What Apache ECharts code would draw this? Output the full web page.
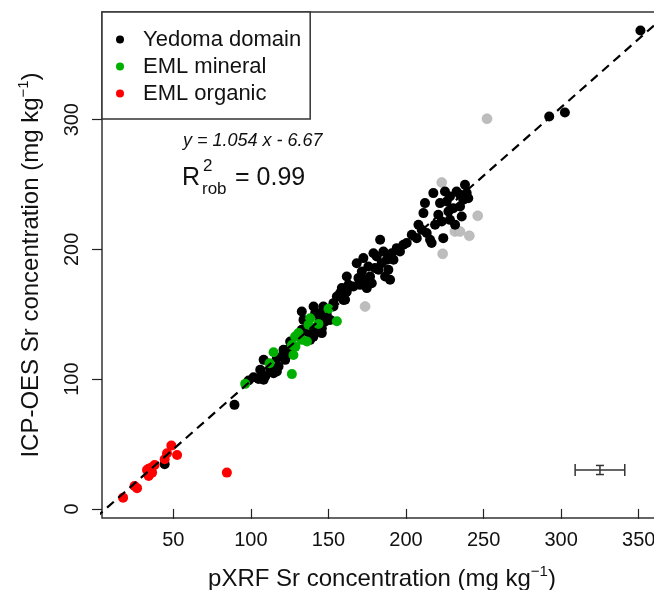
<!DOCTYPE html>
<html><head><meta charset="utf-8">
<script src="https://cdn.jsdelivr.net/npm/echarts@6/dist/echarts.min.js"></script>
<style>html,body{margin:0;padding:0;background:#fff;overflow:hidden}#c{width:654px;height:590px}</style>
</head><body><div id="c"></div>
<script>
const xTicks = [50, 100, 150, 200, 250, 300, 350];
const yTicks = [0, 100, 200, 300];

const yedomaX = [89.4,98.5,101.7,104.9,108.2,107.1,109.2,108.2,112.4,115.7,116.7,117.8,114.6,119.9,121.0,122.1,124.3,132.8,133.9,132.8,136.1,139.3,138.2,140.4,140.4,143.6,144.6,145.7,146.8,145.7,147.9,151.1,153.2,155.4,157.5,158.6,160.7,161.8,162.9,166.1,168.2,169.3,170.4,171.5,172.5,173.6,174.7,175.7,176.8,177.9,179.0,180.0,181.1,182.2,183.3,184.3,185.4,186.5,187.6,188.6,189.7,190.8,191.9,194.0,196.1,198.3,200.4,203.7,206.9,208.0,210.1,211.2,212.2,213.3,215.5,216.5,217.6,218.7,220.8,221.9,223.0,224.0,225.1,226.2,227.3,228.3,228.3,230.5,231.6,232.6,234.8,234.8,235.9,236.9,238.0,239.1,240.1,292.3,302.4,351.1,44.4,146.7,153.2,141.4,148.9,116.7,106.0,125.3,123.2,140.3,142.5,147.9,161.8,159.6];
const yedomaY = [80.2,99.0,101.5,100.2,99.5,103.3,102.0,114.9,107.2,108.5,105.9,109.8,104.6,117.5,122.6,114.9,120.0,152.2,145.7,138.0,136.7,135.5,130.3,139.3,156.0,150.9,145.7,139.3,148.3,135.5,150.9,145.7,156.0,163.7,166.3,170.2,161.2,179.1,172.7,171.4,189.4,177.9,172.7,183.0,193.3,176.6,170.2,186.8,179.2,174.0,197.1,185.6,194.6,184.3,207.4,189.4,198.4,179.2,192.0,184.3,176.6,197.1,192.0,201.0,198.4,203.6,204.9,211.3,208.7,219.0,215.1,228.0,235.7,212.6,207.4,204.9,243.4,219.0,226.7,235.7,221.6,208.7,244.7,237.0,229.3,222.8,240.8,231.8,219.0,244.7,242.1,233.1,225.4,238.3,249.8,243.4,239.5,302.5,305.6,368.8,34.5,156.0,158.6,150.9,149.6,116.2,107.2,129.0,122.6,132.8,136.7,144.4,167.5,161.1];

const mineralX = [96.3,112.0,114.6,126.4,127.4,126.4,128.5,130.7,132.8,136.1,137.1,138.2,143.5,150.0,155.4,128.7];
const mineralY = [96.4,112.3,120.8,103.9,118.7,126.4,132.8,135.5,130.3,129.0,141.9,147.0,142.6,154.2,144.7,125.1];

const organicX = [17.6,25.0,26.6,33.0,35.2,34.1,36.3,37.9,44.4,45.9,48.7,52.4,84.5,34.0,36.0];
const organicY = [8.7,17.7,16.0,30.0,27.5,25.4,28.0,33.9,38.3,42.9,48.8,41.6,28.0,31.0,32.0];

const outlierX = [252.2,223.0,246.2,231.5,234.8,240.8,223.6,173.6];
const outlierY = [300.7,251.6,225.9,213.8,213.8,210.5,196.6,156.0];

const fitSlope = 1.054, fitIntercept = -6.67;
const fitX = [0, 380];

const errX = [325], errY = [30], errDx = [16], errDy = [3.5];

const F = '"Liberation Sans", Arial, Helvetica, sans-serif';
const zip = (a, b) => a.map((v, i) => [v, b[i]]);

const chart = echarts.init(document.getElementById('c'), null, {renderer: 'canvas'});
const supRich = {
  sup: {fontSize: 15, verticalAlign: 'top', fontFamily: F, color: '#111', padding: [0, 0, 15, 0]},
};
chart.setOption({
  animation: false,
  backgroundColor: '#fff',
  grid: {left: 102, top: 12, right: -8, bottom: 72, outerBoundsMode: 'none', containLabel: false,
         show: true, borderColor: '#333', borderWidth: 1.5, backgroundColor: 'transparent'},
  xAxis: {
    type: 'value', min: 4, max: 365,
    axisLine: {show: false}, splitLine: {show: false},
    axisTick: {show: true, customValues: xTicks, length: 10, lineStyle: {color: '#222', width: 1.2}},
    axisLabel: {customValues: xTicks, fontSize: 20, color: '#111', margin: 12, fontFamily: F},
    name: 'pXRF Sr concentration (mg kg{sup|−1})',
    nameLocation: 'middle', nameGap: 46,
    nameTextStyle: {fontSize: 24, color: '#111', fontFamily: F, rich: supRich}
  },
  yAxis: {
    type: 'value', min: -7, max: 383,
    axisLine: {show: false}, splitLine: {show: false},
    axisTick: {show: true, customValues: yTicks, length: 10, lineStyle: {color: '#222', width: 1.2}},
    axisLabel: {customValues: yTicks, fontSize: 20, color: '#111', margin: 20, rotate: 90, fontFamily: F},
    name: 'ICP-OES Sr concentration (mg kg{sup|−1})',
    nameLocation: 'middle', nameGap: 56,
    nameTextStyle: {fontSize: 24, color: '#111', fontFamily: F, rich: supRich}
  },
  legend: {
    orient: 'vertical', left: 102, top: 12,
    padding: [14, 9, 12, 14],
    itemWidth: 36, itemHeight: 8, itemGap: 0,
    borderColor: '#333', borderWidth: 1.5, backgroundColor: '#fff',
    icon: 'circle',
    textStyle: {fontSize: 22, color: '#111', fontFamily: F, lineHeight: 27, padding: [0, 0, 0, 0]},
    data: ['Yedoma domain', 'EML mineral', 'EML organic']
  },
  graphic: [
    {type: 'text', left: 183, top: 132, style: {text: 'y = 1.054 x - 6.67', fontSize: 18, fontStyle: 'italic', fontFamily: F, fill: '#111'}},
    {type: 'text', left: 182, top: 166, style: {text: 'R', fontSize: 25, fontFamily: F, fill: '#111'}},
    {type: 'text', left: 203, top: 158, style: {text: '2', fontSize: 17, fontFamily: F, fill: '#111'}},
    {type: 'text', left: 202, top: 181, style: {text: 'rob', fontSize: 17, fontFamily: F, fill: '#111'}},
    {type: 'text', left: 235, top: 166, style: {text: '= 0.99', fontSize: 25, fontFamily: F, fill: '#111'}}
  ],
  series: [
    {name: 'outliers', type: 'scatter', data: zip(outlierX, outlierY), symbolSize: 10, z: 2,
     itemStyle: {color: '#bdbdbd', borderColor: '#aaa', borderWidth: 0.5, opacity: 1}},
    {name: 'Yedoma domain', type: 'scatter', data: zip(yedomaX, yedomaY), symbolSize: 10, z: 3,
     itemStyle: {color: '#000', opacity: 1}},
    {name: 'EML mineral', type: 'scatter', data: zip(mineralX, mineralY), symbolSize: 10, z: 4,
     itemStyle: {color: '#00b000', opacity: 1}},
    {name: 'EML organic', type: 'scatter', data: zip(organicX, organicY), symbolSize: 10, z: 4,
     itemStyle: {color: '#ff0000', opacity: 1}},
    {name: 'fit', type: 'line', data: fitX.map(x => [x, fitSlope * x + fitIntercept]), symbol: 'none', z: 6,
     clip: true, silent: true, lineStyle: {color: '#000', width: 2.2, type: [9, 6]}},
    {name: 'err', type: 'custom', z: 6, silent: true,
     data: errX.map((x, i) => [x, errY[i], errDx[i], errDy[i]]),
     renderItem: function (params, api) {
       const cx = api.value(0), cy = api.value(1), dx = api.value(2), dy = api.value(3);
       const l = api.coord([cx - dx, cy]), r = api.coord([cx + dx, cy]);
       const t = api.coord([cx, cy + dy]), b = api.coord([cx, cy - dy]);
       const st = {stroke: '#333', lineWidth: 1.5, fill: null};
       const ln = (x1, y1, x2, y2) => ({type: 'line', shape: {x1, y1, x2, y2}, style: st});
       return {type: 'group', children: [
         ln(l[0], l[1], r[0], r[1]),
         ln(l[0], l[1] - 6, l[0], l[1] + 6),
         ln(r[0], r[1] - 6, r[0], r[1] + 6),
         ln(t[0], t[1], b[0], b[1]),
         ln(t[0] - 4, t[1], t[0] + 4, t[1]),
         ln(b[0] - 4, b[1], b[0] + 4, b[1])
       ]};
     }}
  ]
});
</script>
</body></html>
